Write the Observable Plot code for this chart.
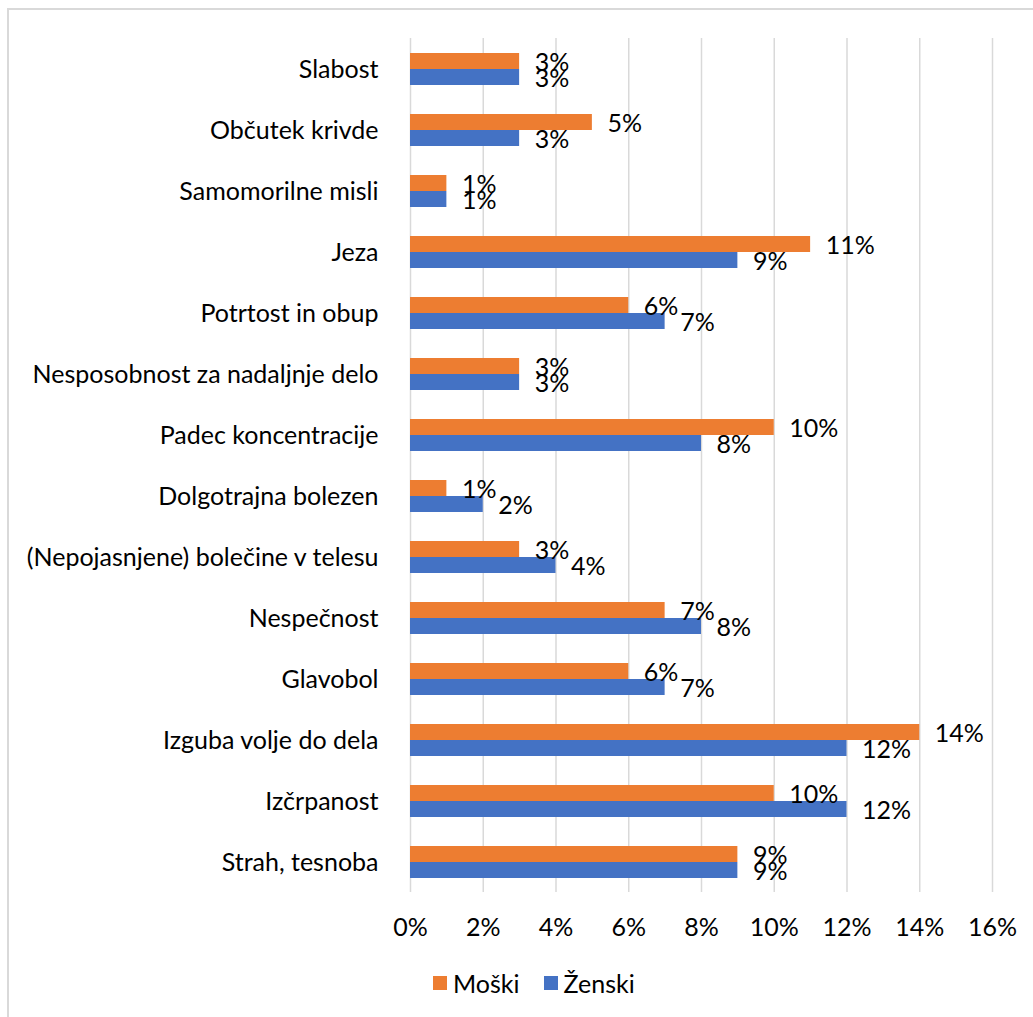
<!DOCTYPE html>
<html><head><meta charset="utf-8">
<script src="https://cdn.jsdelivr.net/npm/d3@7"></script>
<script src="https://cdn.jsdelivr.net/npm/@observablehq/plot@0.6"></script>
<style>
body{margin:0;background:#fff;font-family:Lato,"Open Sans",sans-serif;}
#frame{position:absolute;left:7px;top:8px;width:1040px;height:1020px;border:2px solid #d9d9d9;box-sizing:border-box;}
#chart{position:absolute;left:0;top:0;}
#legend{position:absolute;left:433px;top:966px;}
.lg-swatch > svg{margin-right:6px !important;}
.lg-swatch{margin-right:24px !important;}
</style></head><body>
<div id="frame"></div>
<div id="chart"></div>
<div id="legend"></div>
<script>
const categories = ["Slabost","Občutek krivde","Samomorilne misli","Jeza","Potrtost in obup","Nesposobnost za nadaljnje delo","Padec koncentracije","Dolgotrajna bolezen","(Nepojasnjene) bolečine v telesu","Nespečnost","Glavobol","Izguba volje do dela","Izčrpanost","Strah, tesnoba"];
const moski  = [3,5,1,11,6,3,10,1,3,7,6,14,10,9];
const zenski = [3,3,1,9,7,3,8,2,4,8,7,12,12,9];
const series = ["Moški","Ženski"];
const colors = ["#ED7D31","#4472C4"];
const xTicks = [0,2,4,6,8,10,12,14,16];

const data = categories.flatMap((c,i)=>[
  {category:c, series:series[0], value:moski[i]},
  {category:c, series:series[1], value:zenski[i]}
]);
const FS = 25;
const plot = Plot.plot({
  width:1033, height:950, marginTop:38, marginBottom:58, marginLeft:410, marginRight:41,
  style:{fontFamily:"Lato", fontSize:FS+"px", color:"#000", background:"transparent"},
  x:{domain:[0,16]},
  y:{domain:series, paddingInner:0, paddingOuter:0.85, axis:null},
  fy:{domain:categories, padding:0},
  color:{domain:series, range:colors},
  marks:[
    Plot.gridX(xTicks, {stroke:"#d9d9d9", strokeOpacity:1, strokeWidth:1.5}),
    Plot.barX(data, {x:"value", y:"series", fy:"category", fill:"series"}),
    Plot.text(data, {x:"value", y:"series", fy:"category", text:d=>d.value+"%", textAnchor:"start", dx:15, dy:1, fill:"#000", fontSize:FS}),
    Plot.axisX({ticks:xTicks, tickFormat:d=>d+"%", tickSize:0, tickPadding:26, label:null, fontSize:FS}),
    Plot.axisFy({anchor:"left", tickSize:0, tickPadding:32, label:null, fontSize:FS, dy:1})
  ]
});
document.getElementById("chart").appendChild(plot);

const leg = Plot.legend({color:{domain:series, range:colors}, legend:"swatches", swatchSize:14, className:"lg",
  style:{fontFamily:"Lato", fontSize:FS+"px", color:"#000"}});
document.getElementById("legend").appendChild(leg);
</script>
</body></html>
